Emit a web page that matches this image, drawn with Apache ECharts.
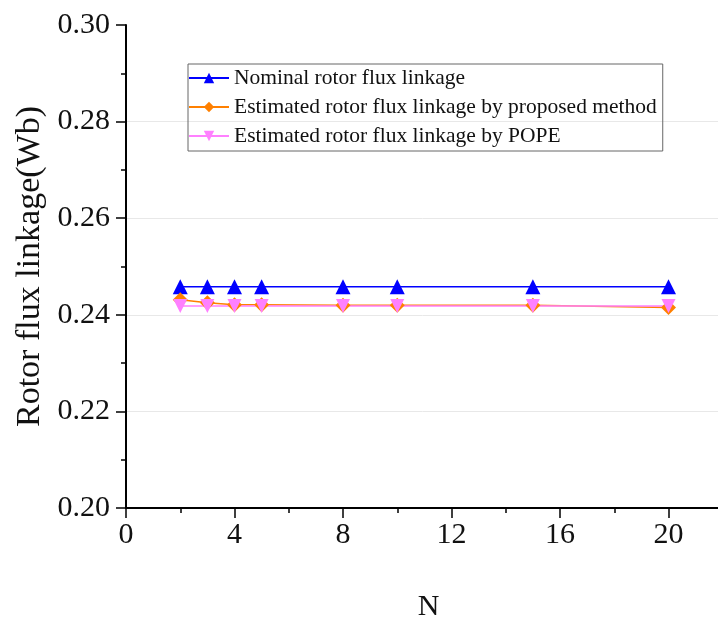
<!DOCTYPE html>
<html>
<head>
<meta charset="utf-8">
<script src="https://cdn.jsdelivr.net/npm/echarts@6/dist/echarts.min.js"></script>
<style>
  html, body { margin: 0; padding: 0; background: #fff; }
  #chart { width: 718px; height: 619px; }
</style>
</head>
<body>
<div id="chart"></div>
<script>
// data
var nValues = [2, 3, 4, 5, 8, 10, 15, 20]
var nominal = [0.2458, 0.2458, 0.2458, 0.2458, 0.2458, 0.2458, 0.2458, 0.2458]
var proposed = [0.2431, 0.2425, 0.2421, 0.2421, 0.2420, 0.2420, 0.2420, 0.2415]
var pope = [0.2418, 0.2418, 0.2418, 0.2418, 0.2418, 0.2418, 0.2418, 0.2418]
var seriesNames = ['Nominal rotor flux linkage', 'Estimated rotor flux linkage by proposed method', 'Estimated rotor flux linkage by POPE']

var font = '"Liberation Serif", "DejaVu Serif", serif'
var myChart = echarts.init(document.getElementById('chart'))

function pairs(ys) {
  return nValues.map((x, i) => [x, ys[i]])
}

myChart.setOption({
  animation: false,
  backgroundColor: '#fff',
  grid: { left: 126, top: 25, bottom: 111, right: -59, outerBoundsMode: 'none', containLabel: false },
  legend: {
    orient: 'vertical',
    left: 188,
    top: 64,
    padding: [3, 6, 4, 0],
    itemGap: 7,
    itemWidth: 40,
    itemHeight: 13,
    borderColor: '#666',
    borderWidth: 1,
    textStyle: { fontFamily: font, fontSize: 21.5, color: '#111' },
    data: seriesNames
  },
  xAxis: {
    type: 'value',
    min: 0, max: 24, interval: 4,
    name: 'N',
    nameLocation: 'middle',
    nameGap: 84,
    nameTextStyle: { fontFamily: font, fontSize: 30, color: '#111', padding: [0, 46, 0, 0] },
    axisLine: { show: true, lineStyle: { color: '#000', width: 2 } },
    axisTick: { show: true, inside: false, length: 10, lineStyle: { color: '#000', width: 1.5 } },
    minorTick: { show: true, splitNumber: 2, length: 5, lineStyle: { color: '#000', width: 1.5 } },
    axisLabel: { fontFamily: font, fontSize: 30, color: '#111', margin: 12 },
    splitLine: { show: false }
  },
  yAxis: {
    type: 'value',
    min: 0.20, max: 0.30, interval: 0.02,
    name: 'Rotor flux linkage(Wb)',
    nameLocation: 'middle',
    nameGap: 79,
    nameTextStyle: { fontFamily: font, fontSize: 34, color: '#111' },
    axisLine: { show: true, lineStyle: { color: '#000', width: 2 } },
    axisTick: { show: true, inside: false, length: 10, lineStyle: { color: '#000', width: 1.5 } },
    minorTick: { show: true, splitNumber: 2, length: 5, lineStyle: { color: '#000', width: 1.5 } },
    axisLabel: {
      fontFamily: font, fontSize: 30, color: '#111', margin: 16,
      formatter: v => v.toFixed(2)
    },
    splitLine: { show: true, lineStyle: { color: ['#e8e8e8', '#e8e8e8', '#e8e8e8', '#e8e8e8', '#e8e8e8', 'transparent'], width: 1 } }
  },
  series: [
    {
      name: seriesNames[0],
      type: 'line',
      data: pairs(nominal),
      symbol: 'triangle',
      symbolSize: 15,
      color: '#0000ff',
      lineStyle: { width: 1.5 }
    },
    {
      name: seriesNames[1],
      type: 'line',
      data: pairs(proposed),
      symbol: 'diamond',
      symbolSize: 15,
      color: '#ff8000',
      lineStyle: { width: 1.5 }
    },
    {
      name: seriesNames[2],
      type: 'line',
      data: pairs(pope),
      symbol: 'triangle',
      symbolRotate: 180,
      symbolSize: 14,
      color: '#ff80ff',
      lineStyle: { width: 1.5 }
    }
  ]
})
</script>
</body>
</html>
